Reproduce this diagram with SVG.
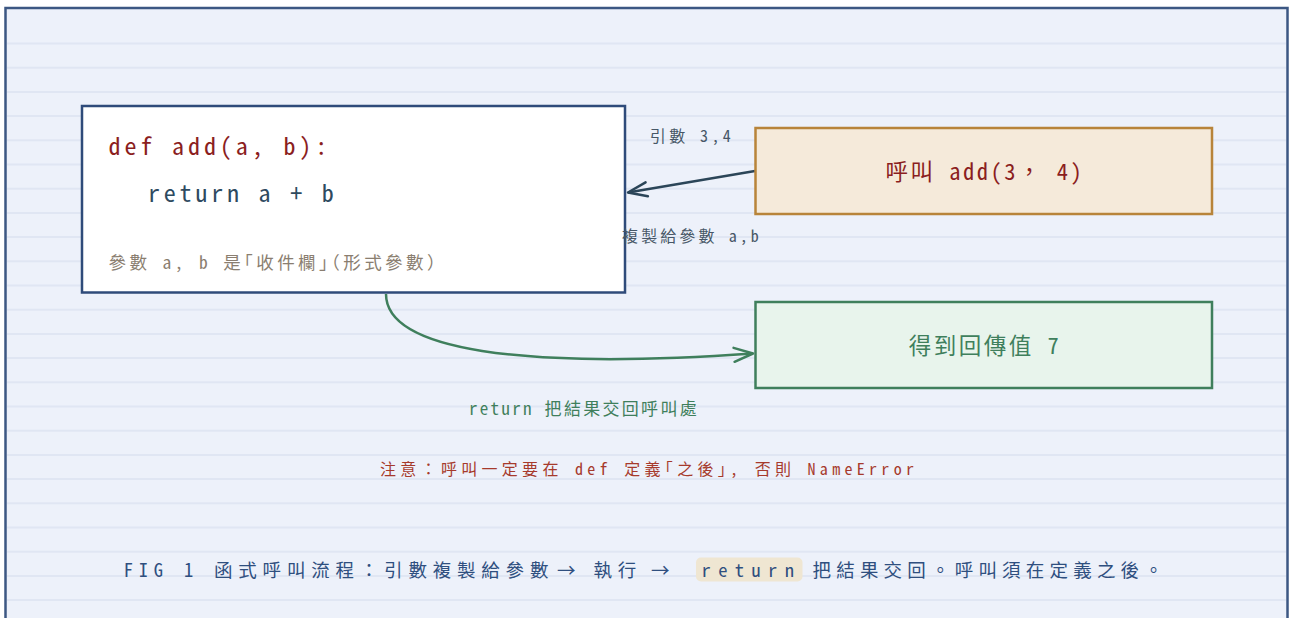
<svg xmlns="http://www.w3.org/2000/svg" width="1290" height="618" viewBox="0 0 1290 618">
  <defs>
    <style>
      .mono { font-family: "Noto Sans Mono CJK TC", "DejaVu Sans Mono", "Noto Sans CJK TC", monospace; }
      .half { font-feature-settings: "halt"; }
      .rule { stroke: #e0e6f3; stroke-width: 2; }
      .node-rect { stroke-width: 2.5; }
    </style>
    <marker id="arrDark" viewBox="-22 -10 24 20" refX="0" refY="0" markerWidth="24" markerHeight="20" markerUnits="userSpaceOnUse" orient="auto">
      <path d="M-19,-7 L0,0 L-19,7" fill="none" stroke="#2b4558" stroke-width="2.5" stroke-linecap="round" stroke-linejoin="round"/>
    </marker>
    <marker id="arrGreen" viewBox="-22 -10 24 20" refX="0" refY="0" markerWidth="24" markerHeight="20" markerUnits="userSpaceOnUse" orient="auto">
      <path d="M-19,-7 L0,0 L-19,7" fill="none" stroke="#3f7f5c" stroke-width="2.5" stroke-linecap="round" stroke-linejoin="round"/>
    </marker>
  </defs>

  <!-- background frame -->
  <rect x="5.5" y="8" width="1282" height="640" fill="#edf1fa" stroke="#3c5783" stroke-width="2.5"/>
  <g id="rules">
    <line class="rule" x1="7" x2="1286" y1="43.5" y2="43.5"/>
    <line class="rule" x1="7" x2="1286" y1="67.7" y2="67.7"/>
    <line class="rule" x1="7" x2="1286" y1="91.9" y2="91.9"/>
    <line class="rule" x1="7" x2="1286" y1="116.1" y2="116.1"/>
    <line class="rule" x1="7" x2="1286" y1="140.3" y2="140.3"/>
    <line class="rule" x1="7" x2="1286" y1="164.5" y2="164.5"/>
    <line class="rule" x1="7" x2="1286" y1="188.7" y2="188.7"/>
    <line class="rule" x1="7" x2="1286" y1="212.9" y2="212.9"/>
    <line class="rule" x1="7" x2="1286" y1="237.1" y2="237.1"/>
    <line class="rule" x1="7" x2="1286" y1="261.3" y2="261.3"/>
    <line class="rule" x1="7" x2="1286" y1="285.5" y2="285.5"/>
    <line class="rule" x1="7" x2="1286" y1="309.7" y2="309.7"/>
    <line class="rule" x1="7" x2="1286" y1="333.9" y2="333.9"/>
    <line class="rule" x1="7" x2="1286" y1="358.1" y2="358.1"/>
    <line class="rule" x1="7" x2="1286" y1="382.3" y2="382.3"/>
    <line class="rule" x1="7" x2="1286" y1="406.5" y2="406.5"/>
    <line class="rule" x1="7" x2="1286" y1="430.7" y2="430.7"/>
    <line class="rule" x1="7" x2="1286" y1="454.9" y2="454.9"/>
    <line class="rule" x1="7" x2="1286" y1="479.1" y2="479.1"/>
    <line class="rule" x1="7" x2="1286" y1="503.3" y2="503.3"/>
    <line class="rule" x1="7" x2="1286" y1="527.5" y2="527.5"/>
    <line class="rule" x1="7" x2="1286" y1="551.7" y2="551.7"/>
    <line class="rule" x1="7" x2="1286" y1="575.9" y2="575.9"/>
    <line class="rule" x1="7" x2="1286" y1="600.1" y2="600.1"/>
  </g>

  <!-- connectors -->
  <g id="connectors">
    <line x1="755" y1="171" x2="628" y2="192.5" stroke="#2b4558" stroke-width="2.5" marker-end="url(#arrDark)"/>
    <path d="M386,294 C386,350 520,370 753,353.5" fill="none" stroke="#3f7f5c" stroke-width="2.5" marker-end="url(#arrGreen)"/>
  </g>

  <!-- function definition node -->
  <g id="node-def">
    <rect class="node-rect" x="82" y="106" width="543" height="186.5" fill="#ffffff" stroke="#2f4b7a"/>
    <text class="mono" x="108.5" y="155" font-size="24" letter-spacing="3.9" fill="#8b1e1e">def add(a, b):</text>
    <text class="mono" x="148" y="202" font-size="24" letter-spacing="3.8" fill="#2e4a5f">return a + b</text>
    <text class="mono" x="108.5" y="268.5" font-size="17.5" letter-spacing="3.4" fill="#8a7e70">參數 a, b 是<tspan class="half">「</tspan>收件欄<tspan class="half">」（</tspan>形式參數<tspan class="half">）</tspan></text>
  </g>

  <!-- call node -->
  <g id="node-call">
    <rect class="node-rect" x="755.5" y="128" width="456.5" height="86" fill="#f5eada" stroke="#b8843a"/>
    <text class="mono" x="985" y="180" font-size="22.5" letter-spacing="2.5" text-anchor="middle" fill="#8b1e1e">呼叫 add(3， 4)</text>
  </g>

  <!-- result node -->
  <g id="node-result">
    <rect class="node-rect" x="755.5" y="302" width="456.5" height="86" fill="#e8f4ec" stroke="#3f7f5c"/>
    <text class="mono" x="985" y="353.5" font-size="22.5" letter-spacing="2.5" text-anchor="middle" fill="#3f7f5c">得到回傳值 7</text>
  </g>

  <!-- connector labels -->
  <g id="labels">
    <text class="mono" x="692" y="141.5" font-size="16" letter-spacing="3.4" text-anchor="middle" fill="#475767">引數 3,4</text>
    <text class="mono" x="692" y="241.5" font-size="16" letter-spacing="3.1" text-anchor="middle" fill="#475767">複製給參數 a,b</text>
    <text class="mono" x="469" y="415" font-size="17" letter-spacing="2.3" fill="#3f7f5c">return 把結果交回呼叫處</text>
    <text class="mono" x="380" y="475" font-size="16" letter-spacing="4.3" fill="#a63a2c">注意：呼叫一定要在 def 定義<tspan class="half">「</tspan>之後<tspan class="half">」</tspan>, 否則 NameError</text>
  </g>

  <!-- caption -->
  <g id="caption">
    <rect x="696" y="557.5" width="106.5" height="24" rx="5" fill="#efe6d2"/>
    <text class="mono" x="123.7" y="577" font-size="18.5" letter-spacing="5.8" fill="#2f4f7f">FIG 1 函式呼叫流程：引數複製給參數</text>
    <text class="mono" x="557" y="577" font-size="18.5" fill="#2f4f7f">→</text>
    <text class="mono" x="593.5" y="577" font-size="18.5" letter-spacing="5.8" fill="#2f4f7f">執行</text>
    <text class="mono" x="651" y="577" font-size="18.5" fill="#2f4f7f">→</text>
    <text class="mono" x="701.5" y="577" font-size="18.5" letter-spacing="7.4" fill="#2f4f7f">return</text>
    <text class="mono" x="812.5" y="577" font-size="18.5" letter-spacing="5.2" fill="#2f4f7f">把結果交回。呼叫須在定義之後。</text>
  </g>
</svg>
